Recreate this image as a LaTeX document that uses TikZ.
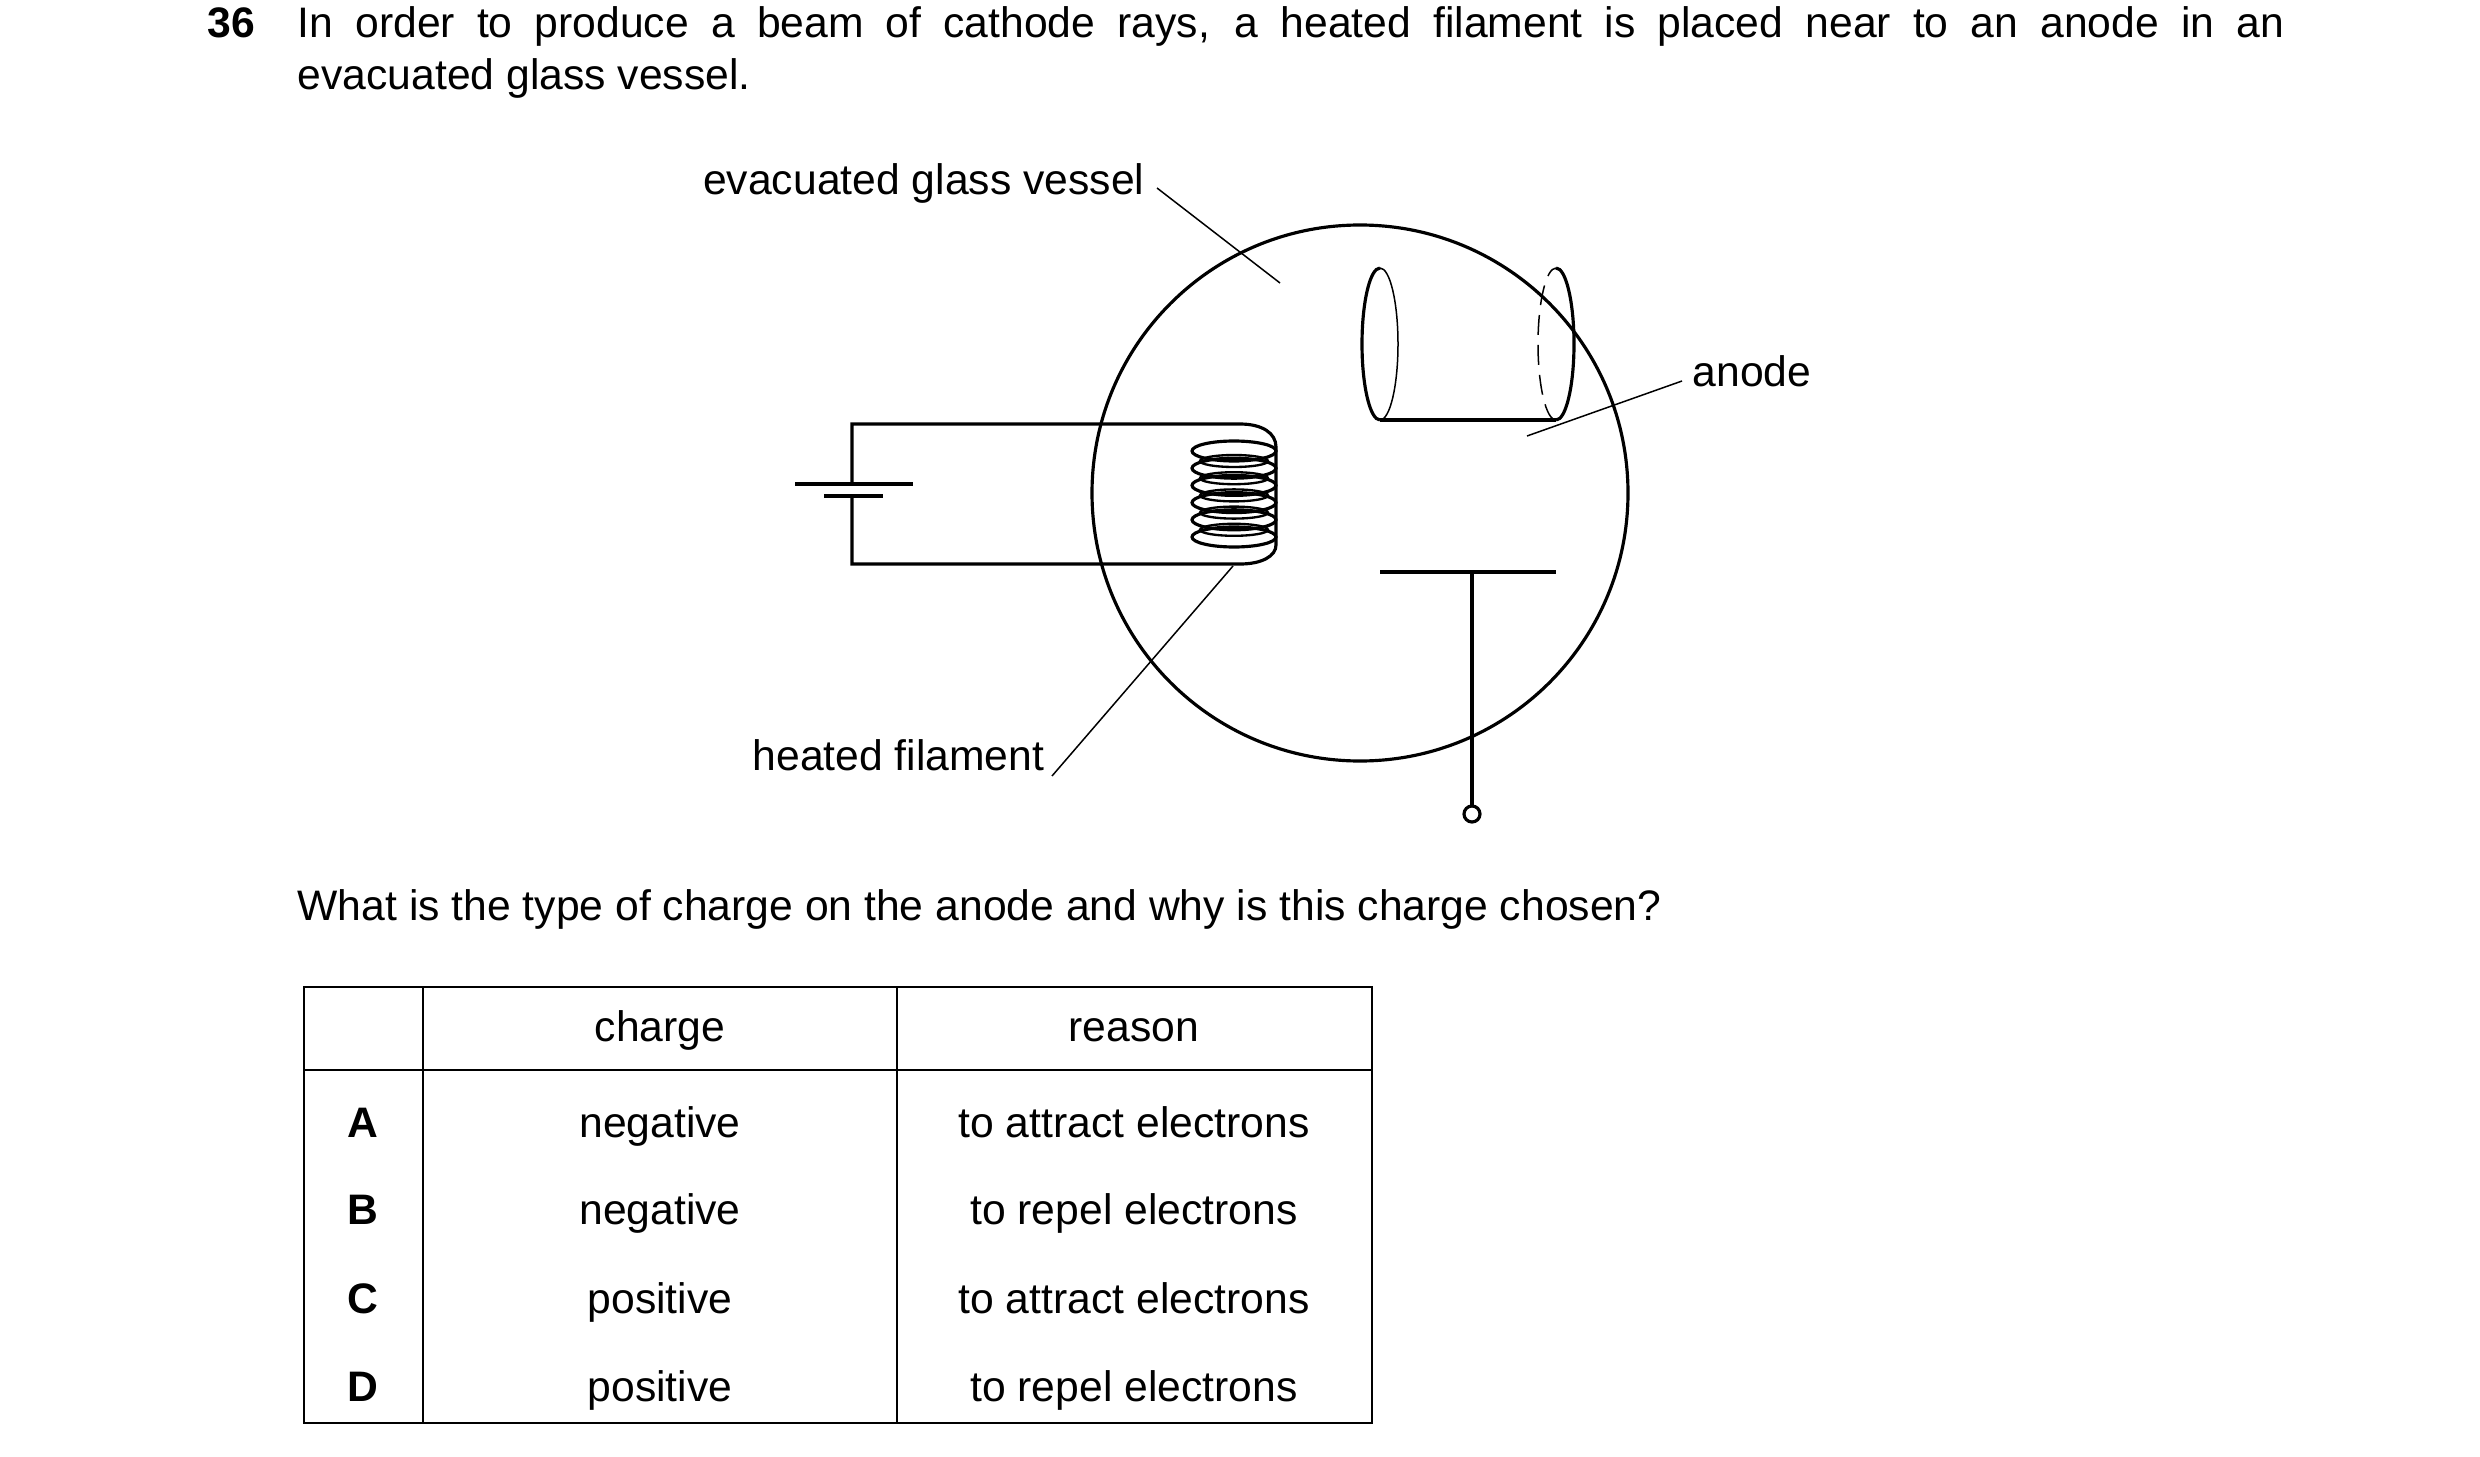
\documentclass[tikz,border=0pt]{standalone}
\usepackage{fontspec}
\setmainfont{Liberation Sans}
\begin{document}
\begin{tikzpicture}[x=0.3pt,y=-0.3pt,
  txt/.style={inner sep=0pt,font=\fontsize{12.8}{15}\selectfont},
  thick0/.style={line width=0.95pt},
  lead/.style={line width=0.45pt},
  tab/.style={line width=0.5pt}]
\useasboundingbox (0,0) rectangle (2480,1457);
% header
\node[txt,anchor=base west] (n36) at (207,38) {\textbf{36}};
\node[txt,anchor=base west] (l1) at (297,38) {\makebox[596pt][s]{In order to produce a beam of cathode rays, a heated filament is placed near to an anode in an}};
\node[txt,anchor=base west] (l2) at (297,90) {evacuated glass vessel.};
% vessel
\draw[thick0] (1360,493) circle (268);
% circuit
\draw[thick0] (852,484) -- (852,424) -- (1240,424) .. controls (1262,424) and (1276,433) .. (1276,447) -- (1276,545) .. controls (1276,556) and (1262,564) .. (1240,564) -- (852,564) -- (852,496);
\draw[thick0] (795,484) -- (913,484);
\draw[thick0] (824,496) -- (883,496);
% coil
\foreach \k in {0,...,5}{
  \draw[thick0] (1234,451+17.2*\k) ellipse (42 and 10);
}
\foreach \k in {0,...,4}{
  \draw[line width=0.7pt] (1234,461+17.2*\k) ellipse (34 and 6);
}
% anode cylinder
\draw[thick0] (1380,420) -- (1556,420);
\draw[thick0] (1380,572) -- (1556,572);
\draw[thick0] (1380,420) arc[start angle=90,end angle=270,x radius=18,y radius=76];
\draw[lead] (1380,420) arc[start angle=90,end angle=-90,x radius=18,y radius=76];
\draw[thick0] (1556,420) arc[start angle=90,end angle=-90,x radius=18,y radius=76];
\draw[lead,dash pattern=on 6pt off 3pt] (1556,420) arc[start angle=90,end angle=270,x radius=18,y radius=76];
\draw[thick0] (1472,572) -- (1472,806);
\draw[thick0,fill=white] (1472,814) circle (8);
% labels
\node[txt,anchor=base east] (ev) at (1145,195) {evacuated glass vessel};
\coordinate (evp) at (1280,283);
\draw[lead] (1157,188) -- (evp);
\node[txt,anchor=base west] (an) at (1692,386) {anode};
\coordinate (anp) at (1527,436);
\draw[lead] (1682,381) -- (anp);
\node[txt,anchor=base east] (hf) at (1045,770) {heated filament};
\coordinate (hfp) at (1233,566);
\draw[lead] (1052,776) -- (hfp);
% question
\node[txt,anchor=base west] (q) at (297,920) {What is the type of charge on the anode and why is this charge chosen?};
% table
\draw[tab] (304,987) rectangle (1372,1423);
\draw[tab] (304,1070) -- (1372,1070);
\draw[tab] (423,987) -- (423,1423);
\draw[tab] (897,987) -- (897,1423);
\node[txt,anchor=base] (hc) at (660,1041) {charge};
\node[txt,anchor=base] (hr) at (1134,1041) {reason};
\foreach \y/\L/\c/\r in {1137/A/negative/to attract electrons,1224/B/negative/to repel electrons,1313/C/positive/to attract electrons,1401/D/positive/to repel electrons}{
  \node[txt,anchor=base] at (363,\y) {\textbf{\L}};
  \node[txt,anchor=base] at (660,\y) {\c};
  \node[txt,anchor=base] at (1134,\y) {\r};
}
\end{tikzpicture}
\end{document}
